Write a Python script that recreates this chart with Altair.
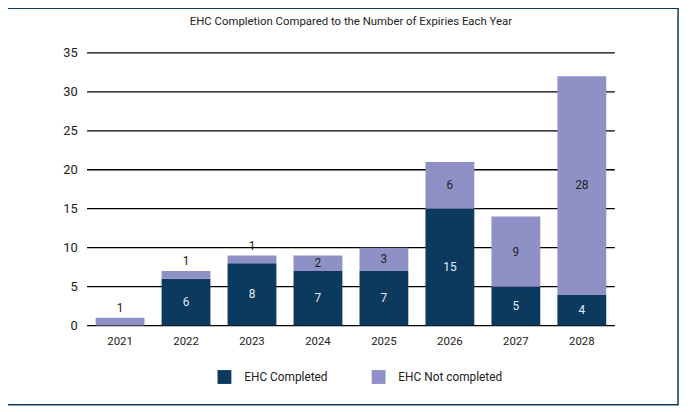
import altair as alt
import pandas as pd

years = ["2021", "2022", "2023", "2024", "2025", "2026", "2027", "2028"]
completed = [0, 6, 8, 7, 7, 15, 5, 4]
not_completed = [1, 1, 1, 2, 3, 6, 9, 28]
series_names = ["EHC Completed", "EHC Not completed"]
colors = ["#0b3a5e", "#8f90c6"]
title_text = "EHC Completion Compared to the Number of Expiries Each Year"
y_ticks = [0, 5, 10, 15, 20, 25, 30, 35]

rows = []
for y, c, n in zip(years, completed, not_completed):
    rows.append(dict(year=y, series=series_names[0], value=c, start=0, end=c, order=0))
    rows.append(dict(year=y, series=series_names[1], value=n, start=c, end=c + n, order=1))
df = pd.DataFrame(rows)
df["mid"] = (df["start"] + df["end"]) / 2

W, H = 534, 276
FONT = "Roboto"
yscale = alt.Scale(domain=[0, 35])
yaxis = alt.Axis(values=y_ticks, ticks=False, domain=False, title=None, grid=False,
                 labelPadding=10, labelFontSize=13, labelColor="#222", labelFont=FONT)
xaxis = alt.Axis(labelAngle=0, ticks=False, domain=False, labelPadding=10, title=None,
                 grid=False, labelFontSize=11.5, labelColor="#222", labelFont=FONT)
xscale = alt.Scale(paddingInner=0.26, paddingOuter=0.13)


def xenc():
    return alt.X("year:N", title=None, sort=years, scale=xscale, axis=xaxis)


def yenc(field):
    return alt.Y(field, title=None, scale=yscale, axis=yaxis)


grid = alt.Chart(pd.DataFrame({"tick": y_ticks})).mark_rule(
    color="#000", strokeWidth=1.3
).encode(y=yenc("tick:Q"), x=alt.value(0), x2=alt.value(W))

bars = alt.Chart(df).mark_bar(opacity=1, fillOpacity=1, strokeWidth=0).encode(
    x=xenc(),
    y=yenc("start:Q"),
    y2="end:Q",
    color=alt.Color("series:N", sort=series_names,
                    scale=alt.Scale(domain=series_names, range=colors),
                    legend=alt.Legend(title=None, orient="none", direction="horizontal",
                                      legendX=132, legendY=321, symbolType="square",
                                      symbolSize=196, symbolStrokeWidth=0,
                                      labelFontSize=12, labelFont=FONT, labelColor="#222",
                                      labelOffset=13, columnPadding=44, padding=0)),
    order="order:Q",
)

inside_dark = alt.Chart(df).transform_filter(
    (alt.datum.order == 0) & (alt.datum.value > 0)
).mark_text(fontSize=12, font=FONT, color="#e6ebf2").encode(
    x=xenc(), y=yenc("mid:Q"), text="value:Q")

inside_light = alt.Chart(df).transform_filter(
    (alt.datum.order == 1) & (alt.datum.value > 1)
).mark_text(fontSize=12, font=FONT, color="#222").encode(
    x=xenc(), y=yenc("mid:Q"), text="value:Q")

above = alt.Chart(df).transform_filter(
    (alt.datum.order == 1) & (alt.datum.value <= 1)
).mark_text(fontSize=12, font=FONT, color="#222", baseline="bottom", dy=-3).encode(
    x=xenc(), y=yenc("end:Q"), text="value:Q")

title = alt.Chart(pd.DataFrame({"t": [title_text]})).mark_text(
    fontSize=11.5, font=FONT, color="#222", baseline="middle", align="center"
).encode(x=alt.value(W / 2), y=alt.value(-31), text="t:N")

border = alt.Chart(pd.DataFrame({"b": [1]})).mark_rect(
    fill="transparent", stroke="#0b3a5e", strokeWidth=1.5, clip=False
).encode(x=alt.value(-82), x2=alt.value(W + 64), y=alt.value(-45), y2=alt.value(H + 80))

chart = alt.layer(grid, bars, inside_dark, inside_light, above, title, border).properties(
    width=W, height=H,
    background="white",
    padding={"left": 80, "top": 43, "right": 69, "bottom": 84},
    autosize=alt.AutoSizeParams(type="none"),
).configure_view(strokeWidth=0, stroke="transparent")

chart.save("out.html", embed_options={"renderer": "svg", "actions": False})
